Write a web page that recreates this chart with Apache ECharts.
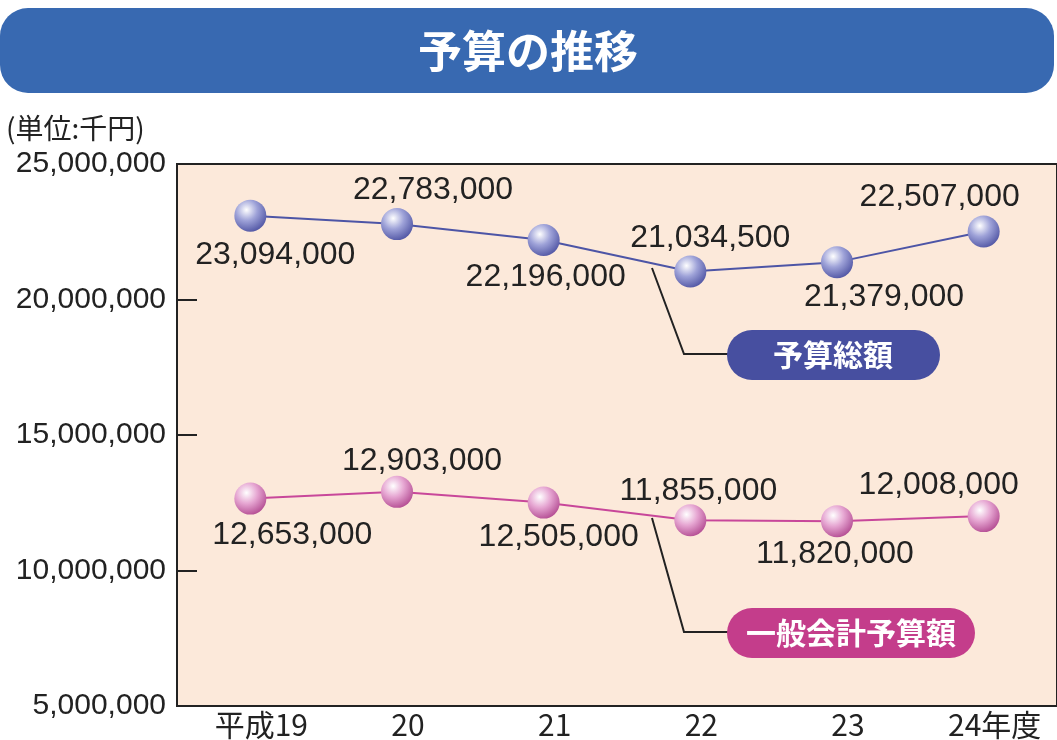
<!DOCTYPE html>
<html>
<head>
<meta charset="utf-8">
<script src="https://cdn.jsdelivr.net/npm/echarts@6/dist/echarts.min.js"></script>
<style>
  html, body { margin: 0; padding: 0; background: #fff; }
  #chart { width: 1057px; height: 740px; }
</style>
</head>
<body>
<div id="chart"></div>
<script>
// data
const years = ["平成19", "20", "21", "22", "23", "24年度"];
const totalBudget = [23094000, 22783000, 22196000, 21034500, 21379000, 22507000];
const generalBudget = [12653000, 12903000, 12505000, 11855000, 11820000, 12008000];
const yMin = 5000000;
const yMax = 25000000;
const yStep = 5000000;

// label placement (pixel offsets from each point)
const totalLabelOffsets = [[25, 40], [36, -34], [2, 37], [20, -33], [47, 35], [-44, -34]];
const generalLabelOffsets = [[42, 37], [25, -31], [15, 35], [8, -29], [-2, 33], [-45, -31]];

const numFont = "'Liberation Sans', Arial, sans-serif";
const jpFont = "'Noto Sans CJK JP', sans-serif";

function fmt(v) {
  return Number(v).toLocaleString("en-US");
}

function ball(c1, c2) {
  return new echarts.graphic.RadialGradient(0.38, 0.32, 0.75, [
    { offset: 0, color: "#ffffff" },
    { offset: 0.45, color: c1 },
    { offset: 1, color: c2 },
  ]);
}

function makeData(values, offsets) {
  return values.map(function (v, i) {
    return { value: v, label: { offset: offsets[i] } };
  });
}

const chart = echarts.init(document.getElementById("chart"));

const option = {
  animation: false,
  grid: {
    left: 177,
    right: -3,
    top: 164,
    bottom: 34,
    show: true,
    backgroundColor: "#fce9da",
    borderColor: "#222",
    borderWidth: 2,
  },
  xAxis: {
    type: "category",
    data: years,
    boundaryGap: true,
    axisLine: { lineStyle: { color: "#222", width: 2 } },
    axisTick: {
      inside: true,
      alignWithLabel: true,
      length: 17,
      lineStyle: { color: "#222", width: 2 },
    },
    axisLabel: {
      margin: 4,
      color: "#222",
      fontSize: 30,
      fontFamily: jpFont,
      padding: [0, 0, 0, 22],
    },
    splitLine: { show: false },
  },
  yAxis: {
    type: "value",
    min: yMin,
    max: yMax,
    interval: yStep,
    axisLine: { show: true, lineStyle: { color: "#222", width: 2 } },
    axisTick: {
      show: true,
      inside: true,
      length: 20,
      lineStyle: { color: "#222", width: 2 },
    },
    axisLabel: {
      margin: 11,
      color: "#222",
      fontSize: 30,
      fontFamily: numFont,
      formatter: fmt,
    },
    splitLine: { show: false },
  },
  series: [
    {
      name: "予算総額",
      type: "line",
      data: makeData(totalBudget, totalLabelOffsets),
      symbol: "circle",
      symbolSize: 32,
      lineStyle: { color: "#4d55a6", width: 2 },
      itemStyle: { color: ball("#9ea2d8", "#4b50a0"), borderWidth: 0 },
      label: {
        show: true,
        position: "inside",
        color: "#222",
        fontSize: 32,
        fontFamily: numFont,
        formatter: function (p) { return fmt(p.value); },
      },
      z: 3,
    },
    {
      name: "一般会計予算額",
      type: "line",
      data: makeData(generalBudget, generalLabelOffsets),
      symbol: "circle",
      symbolSize: 32,
      lineStyle: { color: "#c8479a", width: 2 },
      itemStyle: { color: ball("#e6a6d2", "#b0468e"), borderWidth: 0 },
      label: {
        show: true,
        position: "inside",
        color: "#222",
        fontSize: 32,
        fontFamily: numFont,
        formatter: function (p) { return fmt(p.value); },
      },
      z: 3,
    },
  ],
  graphic: [
    // title bar
    {
      type: "rect",
      shape: { x: 0, y: 8, width: 1054, height: 85, r: 28 },
      style: { fill: "#3869b1" },
    },
    {
      type: "text",
      x: 528,
      y: 51,
      style: {
        text: "予算の推移",
        fill: "#fff",
        font: "bold 44px " + jpFont,
        align: "center",
        verticalAlign: "middle",
      },
    },
    {
      type: "text",
      x: 6,
      y: 128,
      style: {
        text: "(単位:千円)",
        fill: "#222",
        font: "28px " + jpFont,
        verticalAlign: "middle",
      },
    },
    // callout for total
    {
      type: "polyline",
      shape: { points: [[652, 268], [684, 354], [730, 354]] },
      style: { stroke: "#222", lineWidth: 2, fill: null },
      z: 5,
    },
    {
      type: "rect",
      shape: { x: 727, y: 330, width: 213, height: 50, r: 25 },
      style: { fill: "#474fa0" },
      z: 6,
    },
    {
      type: "text",
      x: 833,
      y: 355,
      style: {
        text: "予算総額",
        fill: "#fff",
        font: "bold 30px " + jpFont,
        align: "center",
        verticalAlign: "middle",
      },
      z: 7,
    },
    // callout for general account
    {
      type: "polyline",
      shape: { points: [[652, 518], [684, 632], [730, 632]] },
      style: { stroke: "#222", lineWidth: 2, fill: null },
      z: 5,
    },
    {
      type: "rect",
      shape: { x: 727, y: 608, width: 248, height: 50, r: 25 },
      style: { fill: "#c43d8b" },
      z: 6,
    },
    {
      type: "text",
      x: 851,
      y: 633,
      style: {
        text: "一般会計予算額",
        fill: "#fff",
        font: "bold 30px " + jpFont,
        align: "center",
        verticalAlign: "middle",
      },
      z: 7,
    },
  ],
};

chart.setOption(option);
</script>
</body>
</html>
